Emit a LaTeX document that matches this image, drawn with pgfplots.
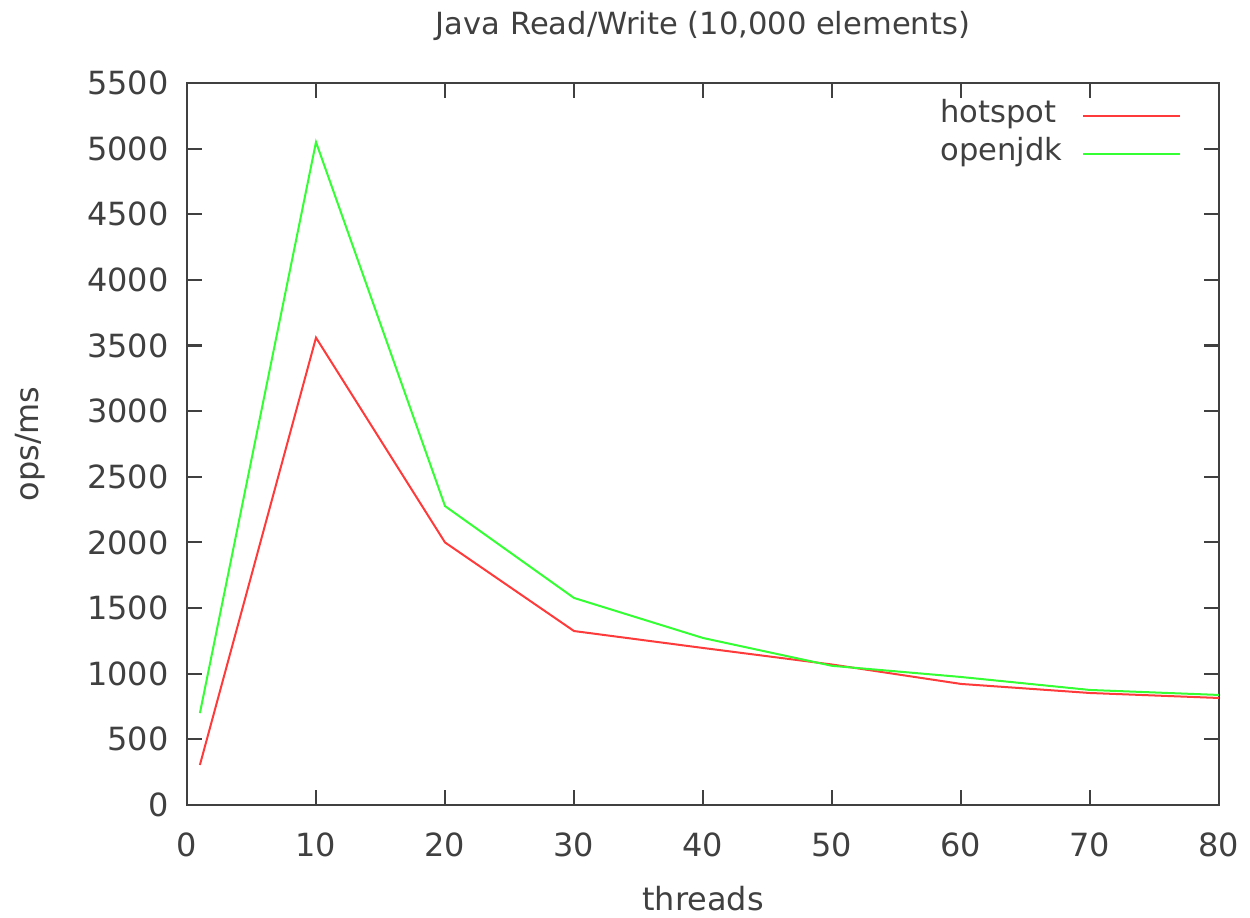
\documentclass[border=0pt]{standalone}
\usepackage{fontspec}
\setmainfont{DejaVu Sans}
\usepackage{pgfplots}
\pgfplotsset{compat=1.18}
\definecolor{hot}{HTML}{FF3A3A}
\definecolor{ojdk}{HTML}{33FF33}
\definecolor{frame}{HTML}{404040}
\begin{document}
\fontsize{11.5}{13.5}\selectfont
\begin{tikzpicture}
\begin{axis}[
  scale only axis,
  width=371.5pt, height=259.9pt,
  xmin=0, xmax=80, ymin=0, ymax=5500,
  xtick={0,10,...,80},
  ytick={0,500,...,5500},
  scaled ticks=false,
  /pgf/number format/1000 sep={},
  /pgf/number format/assume math mode=true,
  tick align=inside,
  major tick length=5.4pt,
  minor tick num=0,
  axis line style={frame, line width=0.75pt},
  every tick/.style={frame, line width=0.75pt},
  tick label style={font=\fontsize{11.5}{13.5}\selectfont, text=frame, inner sep=0pt},
  xticklabel style={anchor=north, yshift=-9.7pt},
  yticklabel style={anchor=east, xshift=-6.5pt},
  title={Java Read/Write (10,000 elements)},
  title style={at={(axis description cs:0.5,1.0443)}, anchor=base, yshift=0pt, font=\fontsize{11}{13}\selectfont, text=frame, inner sep=0pt},
  xlabel={threads},
  xlabel style={at={(axis description cs:0.5,-0.1468)}, anchor=base, font=\fontsize{11.5}{13.5}\selectfont, text=frame, inner sep=0pt},
  ylabel={ops/ms},
  ylabel style={at={(axis description cs:-0.1521,0.5)}, anchor=center, rotate=0, font=\fontsize{11.5}{13.5}\selectfont, text=frame, inner sep=0pt},
  legend plot pos=right,
  legend cell align=left,
  legend image code/.code={\draw[#1] (0pt,0pt) -- (35pt,0pt);},
  legend style={at={(axis description cs:1,1)}, anchor=north east, xshift=-13.3pt, yshift=-4.9pt,
    draw=none, fill=none, inner sep=0pt, row sep=0pt, column sep=7.2pt,
    nodes={inner sep=0pt, text height=9pt, text depth=4.7pt},
    font=\fontsize{11}{13}\selectfont, text=frame},
]
\addplot[hot, line width=0.72pt] coordinates {
  (1,305) (10,3560) (20,2000) (30,1325) (40,1196) (50,1070) (60,922) (70,853) (80,815)
};
\addlegendentry{hotspot}
\addplot[ojdk, line width=0.72pt] coordinates {
  (1,700) (10,5050) (20,2277) (30,1577) (40,1272) (50,1060) (60,975) (70,876) (80,838)
};
\addlegendentry{openjdk}
\end{axis}
\pgfresetboundingbox
\path (current axis.south west) ++(-67.32pt,-40.68pt) coordinate (bbsw);
\path (current axis.north east) ++(11.16pt,29.88pt) coordinate (bbne);
\path[use as bounding box] (bbsw) rectangle (bbne);
\end{tikzpicture}
\end{document}
